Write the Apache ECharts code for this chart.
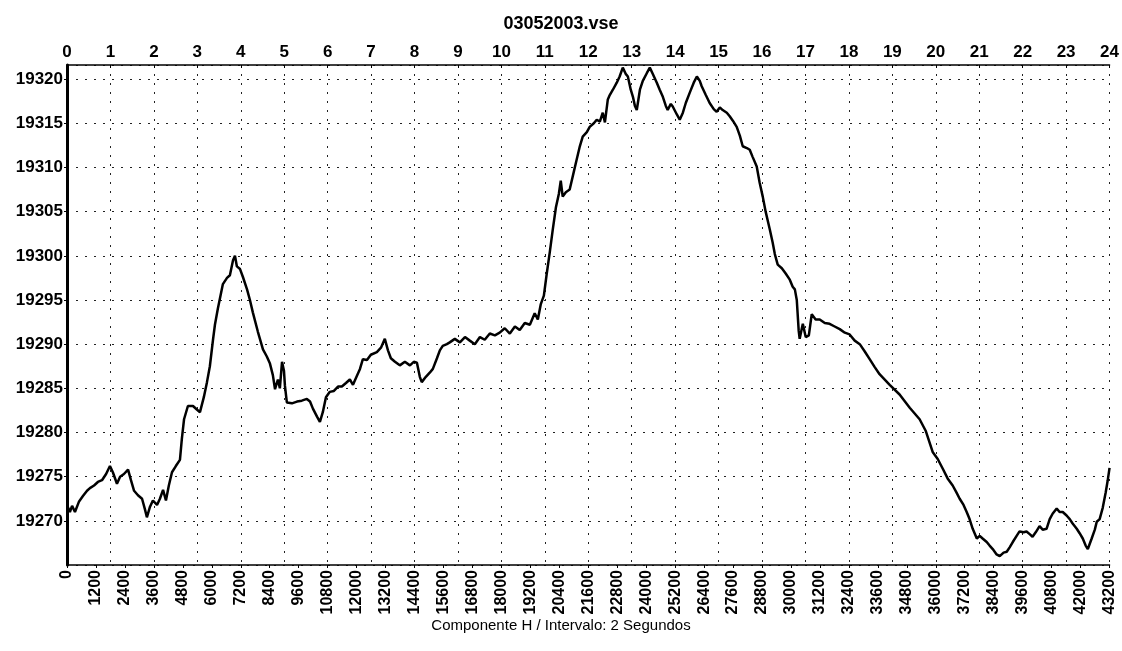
<!DOCTYPE html>
<html>
<head>
<meta charset="utf-8">
<script src="https://cdn.jsdelivr.net/npm/echarts@6/dist/echarts.min.js"></script>
<style>
  html, body { margin: 0; padding: 0; background: #fff; }
  #main { width: 1122px; height: 651px; }
</style>
</head>
<body>
<div id="main"></div>
<script>
// file name and axis caption
var fileName = '03052003.vse';
var xCaption = 'Componente H / Intervalo: 2 Segundos';

// sample number (2 s each) and field value
var samples = [
  0, 120, 210, 330, 500, 660, 830, 950, 1120, 1280, 1450, 1620, 1780, 1900, 2070, 2200,
  2360, 2530, 2650, 2780, 2940, 3110, 3230, 3310, 3440, 3560, 3730, 3850, 3980, 4100, 4220, 4350,
  4510, 4680, 4760, 4850, 5010, 5220, 5380, 5510, 5670, 5800, 5920, 6050, 6130, 6250, 6460, 6630,
  6750, 6880, 6960, 7040, 7170, 7290, 7460, 7580, 7700, 7910, 8120, 8280, 8410, 8530, 8620, 8740,
  8820, 8910, 8990, 9030, 9110, 9320, 9530, 9730, 9940, 10070, 10190, 10360, 10480, 10600, 10730, 10890,
  11060, 11230, 11390, 11560, 11720, 11850, 12010, 12140, 12260, 12430, 12590, 12840, 13010, 13170, 13300, 13420,
  13590, 13790, 14000, 14210, 14370, 14500, 14620, 14700, 14870, 15040, 15160, 15330, 15450, 15570, 15740, 15860,
  16070, 16280, 16490, 16690, 16900, 17110, 17310, 17520, 17730, 17930, 18140, 18350, 18560, 18760, 18970, 19180,
  19380, 19510, 19630, 19760, 19880, 20010, 20130, 20260, 20380, 20460, 20540, 20670, 20830, 21000, 21120, 21250,
  21370, 21540, 21660, 21830, 21950, 22080, 22200, 22290, 22410, 22490, 22620, 22780, 22900, 23030, 23150, 23240,
  23360, 23450, 23530, 23610, 23740, 23860, 24030, 24150, 24270, 24440, 24560, 24690, 24810, 24890, 25020, 25100,
  25270, 25390, 25520, 25640, 25810, 25970, 26100, 26220, 26300, 26470, 26630, 26800, 26920, 27050, 27170, 27340,
  27460, 27590, 27750, 27880, 28000, 28170, 28290, 28410, 28580, 28700, 28830, 28950, 29120, 29240, 29330, 29450,
  29620, 29780, 29950, 30070, 30160, 30240, 30320, 30360, 30490, 30610, 30740, 30860, 31020, 31190, 31400, 31600,
  31810, 32020, 32230, 32430, 32640, 32850, 33050, 33260, 33470, 33670, 34090, 34500, 34920, 35330, 35580, 35870,
  36080, 36290, 36490, 36700, 36860, 36990, 37150, 37280, 37400, 37530, 37700, 37820, 37940, 38110, 38230, 38360,
  38520, 38650, 38810, 38940, 39060, 39190, 39350, 39470, 39640, 39760, 39890, 40010, 40140, 40300, 40430, 40590,
  40720, 40840, 41010, 41130, 41260, 41420, 41550, 41670, 41840, 41960, 42090, 42210, 42300, 42380, 42460, 42590,
  42670, 42790, 42920, 43040, 43120, 43200
];
var values = [
  19271.8, 19271.0, 19271.7, 19271.0, 19272.2, 19272.8, 19273.4, 19273.7, 19274.0, 19274.4, 19274.6, 19275.3, 19276.2, 19275.5, 19274.2, 19275.0,
  19275.3, 19275.8, 19274.6, 19273.4, 19272.9, 19272.5, 19271.3, 19270.4, 19271.6, 19272.3, 19271.8, 19272.5, 19273.5, 19272.3, 19274.0, 19275.5,
  19276.2, 19276.9, 19279.3, 19281.5, 19283.0, 19283.0, 19282.6, 19282.3, 19284.0, 19285.7, 19287.5, 19290.5, 19292.2, 19294.0, 19296.8, 19297.5,
  19297.8, 19299.5, 19300.0, 19298.8, 19298.5, 19297.6, 19296.2, 19295.0, 19293.6, 19291.4, 19289.4, 19288.6, 19287.8, 19286.5, 19284.9, 19286.0,
  19285.0, 19288.0, 19287.0, 19285.3, 19283.4, 19283.3, 19283.5, 19283.6, 19283.8, 19283.5, 19282.7, 19281.8, 19281.2, 19282.3, 19284.0, 19284.6,
  19284.7, 19285.2, 19285.2, 19285.6, 19286.0, 19285.4, 19286.4, 19287.2, 19288.3, 19288.2, 19288.8, 19289.1, 19289.6, 19290.6, 19289.3, 19288.4,
  19288.0, 19287.6, 19288.0, 19287.6, 19288.0, 19287.9, 19286.3, 19285.7, 19286.3, 19286.8, 19287.2, 19288.4, 19289.3, 19289.8, 19290.0, 19290.2,
  19290.6, 19290.2, 19290.8, 19290.4, 19290.0, 19290.8, 19290.5, 19291.2, 19291.0, 19291.3, 19291.8, 19291.2, 19292.0, 19291.6, 19292.4, 19292.2,
  19293.5, 19292.8, 19294.5, 19295.5, 19298.0, 19300.5, 19303.0, 19305.5, 19307.0, 19308.5, 19306.7, 19307.2, 19307.5, 19309.5, 19310.9, 19312.4,
  19313.5, 19314.0, 19314.6, 19315.0, 19315.4, 19315.2, 19316.2, 19315.1, 19317.7, 19318.2, 19318.8, 19319.6, 19320.3, 19321.3, 19320.6, 19320.3,
  19318.8, 19318.0, 19317.0, 19316.5, 19318.8, 19319.8, 19320.7, 19321.3, 19320.6, 19319.6, 19318.8, 19318.0, 19317.0, 19316.5, 19317.2, 19316.9,
  19316.0, 19315.4, 19316.2, 19317.3, 19318.5, 19319.6, 19320.3, 19319.8, 19319.2, 19318.2, 19317.3, 19316.6, 19316.3, 19316.8, 19316.5, 19316.2,
  19315.8, 19315.3, 19314.6, 19313.6, 19312.4, 19312.2, 19312.0, 19311.2, 19310.1, 19308.3, 19306.7, 19305.0, 19303.0, 19301.5, 19300.2, 19299.0,
  19298.6, 19298.0, 19297.3, 19296.5, 19296.2, 19295.0, 19291.5, 19290.6, 19292.3, 19290.8, 19291.0, 19293.4, 19292.8, 19292.8, 19292.4, 19292.3,
  19292.0, 19291.7, 19291.3, 19291.1, 19290.4, 19290.0, 19289.2, 19288.3, 19287.4, 19286.6, 19285.4, 19284.3, 19282.8, 19281.5, 19280.2, 19277.8,
  19277.0, 19275.9, 19274.8, 19274.0, 19273.2, 19272.5, 19271.8, 19271.0, 19270.2, 19269.1, 19268.0, 19268.3, 19268.0, 19267.6, 19267.2, 19266.8,
  19266.2, 19266.0, 19266.4, 19266.5, 19267.0, 19267.6, 19268.3, 19268.8, 19268.7, 19268.8, 19268.5, 19268.2, 19268.7, 19269.4, 19269.0, 19269.1,
  19270.2, 19270.8, 19271.4, 19271.0, 19271.0, 19270.6, 19270.2, 19269.7, 19269.1, 19268.6, 19268.0, 19267.2, 19266.8, 19267.4, 19268.0, 19269.0,
  19269.9, 19270.2, 19271.5, 19273.2, 19274.5, 19276.0
];

var lineData = [];
for (var i = 0; i < samples.length; i++) {
  lineData.push([samples[i], values[i]]);
}

var chart = echarts.init(document.getElementById('main'));

var fontFam = 'Liberation Sans, Arial, sans-serif';
// plain numbers, no thousands separator
function plain(v) { return String(v); }

var option = {
  backgroundColor: '#fff',
  animation: false,
  title: [
    {
      text: fileName,
      left: 'center',
      top: 10,
      textStyle: { color: '#000', fontFamily: fontFam, fontWeight: 'bold', fontSize: 18 }
    },
    {
      text: xCaption,
      left: 'center',
      top: 613,
      textStyle: { color: '#000', fontFamily: fontFam, fontWeight: 'normal', fontSize: 15 }
    }
  ],
  grid: { left: 67, right: 12, top: 65, bottom: 86, containLabel: false },
  xAxis: [
    {
      type: 'value',
      position: 'bottom',
      min: 0,
      max: 43200,
      interval: 1200,
      axisLine: { show: true, lineStyle: { color: '#000', width: 1.5 } },
      axisTick: { show: true, length: 3, lineStyle: { color: '#000' } },
      axisLabel: { rotate: 90, margin: 5, fontSize: 16, color: '#000', fontFamily: fontFam, fontWeight: 'bold', formatter: plain },
      splitLine: { show: false }
    },
    {
      type: 'value',
      position: 'top',
      min: 0,
      max: 24,
      interval: 1,
      axisLine: { show: true, lineStyle: { color: '#000', width: 1.5 } },
      axisTick: { show: true, length: 3, inside: true, lineStyle: { color: '#000' } },
      axisLabel: { margin: 4, fontSize: 17, color: '#000', fontFamily: fontFam, fontWeight: 'bold', formatter: plain },
      splitLine: { show: true, lineStyle: { color: '#222', width: 1, type: [2, 7] } }
    }
  ],
  yAxis: {
    type: 'value',
    min: 19265,
    max: 19321.6,
    interval: 5,
    axisLine: { show: true, lineStyle: { color: '#000', width: 3 } },
    axisTick: { show: true, length: 3, lineStyle: { color: '#000' } },
    axisLabel: { margin: 4, fontSize: 17, color: '#000', fontFamily: fontFam, fontWeight: 'bold', showMinLabel: false, showMaxLabel: false, formatter: plain },
    splitLine: { show: true, lineStyle: { color: '#222', width: 1, type: [2, 7] } }
  },
  series: [{
    type: 'line',
    xAxisIndex: 0,
    data: lineData,
    showSymbol: false,
    symbol: 'none',
    lineStyle: { color: '#000', width: 2.5 }
  }]
};

chart.setOption(option);
</script>
</body>
</html>
